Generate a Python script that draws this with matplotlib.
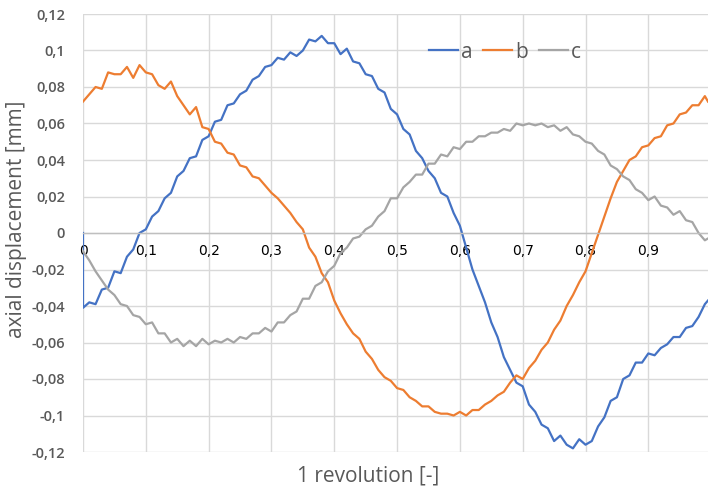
#!/usr/bin/env python3
"""Axial displacement over one revolution, three measurement tracks a/b/c."""

import matplotlib

matplotlib.use("Agg")
import matplotlib.pyplot as plt
import numpy as np

# sample positions along the revolution (0.00 ... 0.99, then the last sample)
rev = np.append(np.arange(100) / 100, 0.995)

# values, in mm
disp_a = [
    -0.041, -0.038, -0.039, -0.031, -0.030, -0.021, -0.022, -0.013, -0.009, 0.000,
    0.002, 0.009, 0.012, 0.019, 0.022, 0.031, 0.034, 0.041, 0.042, 0.051,
    0.053, 0.061, 0.062, 0.070, 0.071, 0.076, 0.078, 0.084, 0.086, 0.091,
    0.092, 0.096, 0.095, 0.099, 0.097, 0.100, 0.106, 0.105, 0.108, 0.104,
    0.104, 0.098, 0.101, 0.094, 0.093, 0.087, 0.086, 0.079, 0.077, 0.068,
    0.065, 0.057, 0.054, 0.045, 0.041, 0.034, 0.030, 0.022, 0.020, 0.011,
    0.004, -0.008, -0.020, -0.029, -0.038, -0.049, -0.057, -0.068, -0.075, -0.082,
    -0.084, -0.094, -0.098, -0.105, -0.107, -0.114, -0.111, -0.116, -0.118, -0.113,
    -0.116, -0.114, -0.106, -0.101, -0.092, -0.090, -0.080, -0.078, -0.071, -0.071,
    -0.066, -0.067, -0.063, -0.061, -0.057, -0.057, -0.052, -0.051, -0.046, -0.039,
    -0.037,
]
disp_b = [
    0.072, 0.076, 0.080, 0.079, 0.088, 0.087, 0.087, 0.091, 0.085, 0.092,
    0.088, 0.087, 0.081, 0.079, 0.083, 0.075, 0.070, 0.065, 0.069, 0.058,
    0.057, 0.050, 0.049, 0.044, 0.043, 0.037, 0.036, 0.031, 0.030, 0.026,
    0.022, 0.019, 0.015, 0.011, 0.006, 0.002, -0.008, -0.013, -0.022, -0.027,
    -0.037, -0.044, -0.050, -0.055, -0.058, -0.065, -0.069, -0.075, -0.079, -0.081,
    -0.085, -0.086, -0.090, -0.092, -0.095, -0.095, -0.098, -0.099, -0.099, -0.100,
    -0.098, -0.100, -0.097, -0.097, -0.094, -0.092, -0.089, -0.087, -0.082, -0.078,
    -0.080, -0.074, -0.070, -0.064, -0.060, -0.053, -0.048, -0.040, -0.034, -0.027,
    -0.021, -0.011, -0.001, 0.009, 0.019, 0.028, 0.034, 0.040, 0.042, 0.047,
    0.048, 0.052, 0.053, 0.059, 0.060, 0.065, 0.066, 0.070, 0.070, 0.075,
    0.072,
]
disp_c = [
    -0.010, -0.015, -0.021, -0.026, -0.031, -0.034, -0.039, -0.040, -0.045, -0.046,
    -0.050, -0.049, -0.055, -0.055, -0.060, -0.058, -0.062, -0.059, -0.062, -0.058,
    -0.061, -0.059, -0.060, -0.058, -0.060, -0.057, -0.058, -0.055, -0.055, -0.052,
    -0.054, -0.049, -0.049, -0.045, -0.043, -0.036, -0.036, -0.029, -0.027, -0.021,
    -0.018, -0.011, -0.008, -0.003, -0.002, 0.002, 0.004, 0.009, 0.012, 0.019,
    0.019, 0.025, 0.028, 0.032, 0.032, 0.038, 0.038, 0.043, 0.042, 0.047,
    0.046, 0.050, 0.050, 0.053, 0.053, 0.055, 0.055, 0.057, 0.056, 0.060,
    0.059, 0.060, 0.059, 0.060, 0.058, 0.059, 0.056, 0.058, 0.054, 0.053,
    0.050, 0.049, 0.045, 0.043, 0.037, 0.035, 0.031, 0.029, 0.024, 0.022,
    0.018, 0.020, 0.015, 0.014, 0.010, 0.012, 0.007, 0.006, 0.000, -0.004,
    -0.003,
]
# track a starts at zero and drops straight to its first sample
a_start = 0.0

x_ticks = [0.0, 0.1, 0.2, 0.3, 0.4, 0.5, 0.6, 0.7, 0.8, 0.9]
y_ticks = [-0.12, -0.10, -0.08, -0.06, -0.04, -0.02, 0.0, 0.02, 0.04, 0.06, 0.08, 0.10, 0.12]

COLORS = {"a": "#4472C4", "b": "#ED7D31", "c": "#A5A5A5"}
TEXT = "#595959"
FONT = "Open Sans"


def comma(v: float) -> str:
    s = f"{v:.2f}".rstrip("0").rstrip(".")
    if s in ("-0", ""):
        s = "0"
    return s.replace(".", ",")


def main() -> None:
    fig = plt.figure(figsize=(7.08, 4.88), dpi=100)
    ax = fig.add_axes([83 / 708, 36 / 488, 625 / 708, 438 / 488])

    xa = np.insert(rev, 0, 0.0)
    ya = [a_start] + disp_a
    ax.plot(xa, ya, color=COLORS["a"], lw=1.6, label="a")
    ax.plot(rev, disp_b, color=COLORS["b"], lw=1.6, label="b")
    ax.plot(rev, disp_c, color=COLORS["c"], lw=1.6, label="c")

    ax.set_xlim(0, 0.995)
    ax.set_ylim(-0.12, 0.12)
    ax.set_xticks(x_ticks)
    ax.set_yticks(y_ticks)
    ax.set_xticklabels([comma(v) for v in x_ticks], fontsize=10.5, color=TEXT,
                       family=FONT, fontweight="semibold")
    ax.set_yticklabels([comma(v) for v in y_ticks], fontsize=10.5, color=TEXT,
                       family=FONT, fontweight="semibold")
    ax.tick_params(axis="both", length=0)
    ax.tick_params(axis="x", pad=8)
    ax.tick_params(axis="y", pad=13)

    ax.grid(True, color="#D9D9D9", lw=1.0)
    ax.set_axisbelow(True)
    for side in ("top", "right", "left"):
        ax.spines[side].set_visible(False)
    ax.spines["bottom"].set_position(("data", 0))
    ax.spines["bottom"].set_color("#BFBFBF")
    ax.spines["bottom"].set_linewidth(1.0)

    fig.text(17 / 708, 1 - 219 / 488, "axial displacement [mm]", rotation=90,
             ha="center", va="center", fontsize=15, color=TEXT, family=FONT)
    fig.text(368 / 708, 1 - 476 / 488, "1 revolution [-]", ha="center", va="center",
             fontsize=15, color=TEXT, family=FONT)

    leg = ax.legend(loc="center", ncol=3, frameon=False, handlelength=1.4,
                    handletextpad=0.15, columnspacing=0.5,
                    prop={"family": FONT, "size": 15})
    leg.set_bbox_to_anchor(((505 - 83) / 625, (452 - 52) / 438), transform=ax.transAxes)
    for t in leg.get_texts():
        t.set_color(TEXT)

    fig.savefig("out.png", dpi=100)
    plt.close(fig)


if __name__ == "__main__":
    main()
